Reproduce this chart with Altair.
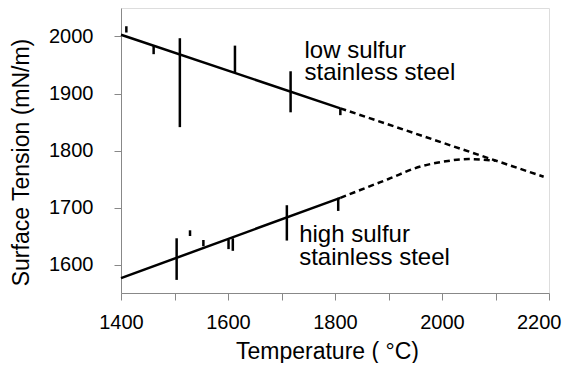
import altair as alt
import pandas as pd

# ---- data ----
low_solid_T = [1400, 1810]
low_solid_S = [2003, 1874]
low_dash_T = [1810, 2190]
low_dash_S = [1874, 1754]

high_solid_T = [1400, 1810]
high_solid_S = [1576, 1717]
high_dash_T = [1810, 1900, 1960, 2000, 2050, 2100]
high_dash_S = [1717, 1750, 1772, 1780, 1785, 1782]

low_bar_T = [1410, 1461, 1510, 1613, 1717, 1810]
low_bar_lo = [2007, 1969, 1841, 1937, 1867, 1862]
low_bar_hi = [2018, 1984, 1997, 1984, 1939, 1874]

high_bar_T = [1504, 1529, 1554, 1601, 1609, 1710, 1806]
high_bar_lo = [1573, 1650, 1632, 1627, 1624, 1642, 1694]
high_bar_hi = [1646, 1660, 1643, 1644, 1646, 1704, 1717]

label_text = ["low sulfur", "stainless steel", "high sulfur", "stainless steel"]
label_T = [1743, 1743, 1733, 1733]
label_S = [1962, 1923, 1640, 1600]

x_ticks = list(range(1400, 2201, 100))
y_ticks = list(range(1600, 2001, 50))

FONT = "Liberation Sans"

solid = pd.DataFrame({
    "T": low_solid_T + high_solid_T,
    "S": low_solid_S + high_solid_S,
    "series": ["low"] * len(low_solid_T) + ["high"] * len(high_solid_T),
})
dashed = pd.DataFrame({
    "T": low_dash_T + high_dash_T,
    "S": low_dash_S + high_dash_S,
    "series": ["low"] * len(low_dash_T) + ["high"] * len(high_dash_T),
})
bars = pd.DataFrame({
    "T": low_bar_T + high_bar_T,
    "lo": low_bar_lo + high_bar_lo,
    "hi": low_bar_hi + high_bar_hi,
})
labels = pd.DataFrame({"text": label_text, "T": label_T, "S": label_S})

xscale = alt.Scale(domain=[1400, 2200], nice=False, zero=False)
yscale = alt.Scale(domain=[1550, 2050], nice=False, zero=False)

xaxis = alt.Axis(
    title="Temperature ( °C)", values=x_ticks,
    labelExpr="datum.value % 200 == 0 ? datum.label : ''",
    format="d", grid=False, tickSize=7, labelPadding=12, labelFlush=False,
    labelAlign={"expr": "datum.value == 2200 ? 'right' : 'center'"},
    labelOffset={"expr": "datum.value == 2200 ? 12 : 0"},
    labelFontSize=20, titleFontSize=23, titleFontWeight="normal",
    titleX=206, titleY=65, titleBaseline="alphabetic", titleAlign="center",
)
yaxis = alt.Axis(
    title="Surface Tension (mN/m)", values=y_ticks,
    labelExpr="datum.value % 100 == 0 ? datum.label : ''",
    format="d", grid=False, tickSize=7, labelPadding=21, labelFlush=False,
    labelFontSize=20, titleFontSize=23, titleFontWeight="normal",
    titleX=-93, titleY=154, titleBaseline="alphabetic", titleAlign="center",
    titleAngle=-90,
)

base_x = alt.X("T:Q", scale=xscale, axis=xaxis)
base_y = alt.Y("S:Q", scale=yscale, axis=yaxis)

solid_layer = alt.Chart(solid).mark_line(color="black", strokeWidth=2.5).encode(
    x=base_x, y=base_y, detail="series:N"
)
dash_layer = alt.Chart(dashed).mark_line(
    color="black", strokeWidth=2.5, strokeDash=[6, 4], interpolate="monotone"
).encode(
    x=alt.X("T:Q", scale=xscale), y=alt.Y("S:Q", scale=yscale), detail="series:N"
)
bar_layer = alt.Chart(bars).mark_rule(color="black", strokeWidth=2.5).encode(
    x=alt.X("T:Q", scale=xscale),
    y=alt.Y("lo:Q", scale=yscale),
    y2="hi:Q",
)
text_layer = alt.Chart(labels).mark_text(
    align="left", baseline="alphabetic", font=FONT, fontSize=24, color="black"
).encode(
    x=alt.X("T:Q", scale=xscale), y=alt.Y("S:Q", scale=yscale), text="text:N"
)

chart = alt.layer(solid_layer, dash_layer, bar_layer, text_layer).properties(
    width=428, height=285,
    autosize=alt.AutoSizeParams(type="none"),
    padding={"left": 113, "top": 0, "right": 13, "bottom": 70},
).configure_view(
    stroke="black", strokeWidth=1.5
).configure_axis(
    domainColor="black", domainWidth=1.5, tickColor="black", tickWidth=1.5,
    labelColor="black", titleColor="black", labelFont=FONT, titleFont=FONT,
).configure(background="white")

chart.save("out.html", embed_options={"renderer": "svg", "actions": False})
